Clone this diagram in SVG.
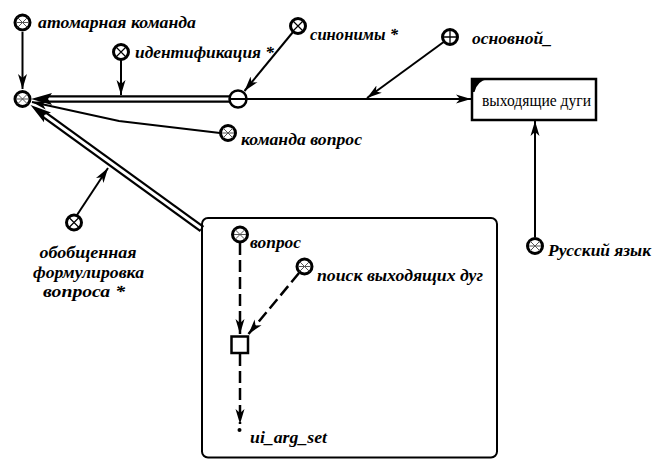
<svg xmlns="http://www.w3.org/2000/svg" xmlns:xlink="http://www.w3.org/1999/xlink" width="652" height="460" viewBox="0 0 652 460">
<style>
.lbl{font-weight:bold;font-style:italic;font-size:16px;fill:#000}
.reg{font-size:16px;fill:#000}
.ln{stroke:#000;stroke-width:2;fill:none}
.dash{stroke:#000;stroke-width:2.5;fill:none;stroke-dasharray:12 5}
.dbo{stroke:#000;stroke-width:7.5;fill:none}
.dbi{stroke:#fff;stroke-width:3;fill:none}
</style>
<defs>
<marker id="ah" markerUnits="userSpaceOnUse" markerWidth="16" markerHeight="10" refX="15" refY="5" orient="auto">
<path d="M0,0.5 L15,5 L0,9.5 L4,5 Z" fill="#000"/>
</marker>
<g id="nx">
<circle r="7.5" fill="#fff" stroke="#000" stroke-width="3"/>
<path d="M-5,-5L5,5M-5,5L5,-5" stroke="#000" stroke-width="1.2"/>
</g>
<g id="na">
<circle r="7.5" fill="#fff" stroke="#000" stroke-width="3"/>
<path d="M-5,-5L5,5M-5,5L5,-5M-6,0H6" stroke="#555" stroke-width="1"/>
</g>
</defs>
<rect width="652" height="460" fill="#fff"/>

<g id="connectors">
<line class="ln" x1="22.5" y1="32" x2="22.5" y2="89" marker-end="url(#ah)"/>
<line class="dbo" x1="48" y1="99" x2="230" y2="99"/>
<line class="dbi" x1="46" y1="99" x2="231" y2="99"/>
<polygon points="31,99 52,93 48,99 52,105" fill="#000"/>
<line class="dbo" x1="44" y1="114.5" x2="202" y2="229"/>
<line class="dbi" x1="43" y1="113.8" x2="201" y2="228.3"/>
<polygon points="0,0 21,-6 17,0 21,6" fill="#000" transform="translate(30.5,105) rotate(35.9)"/>
<line class="ln" x1="121" y1="60" x2="121" y2="95" marker-end="url(#ah)"/>
<line class="ln" x1="293" y1="32" x2="244.5" y2="91" marker-end="url(#ah)"/>
<line class="ln" x1="445" y1="41" x2="367" y2="98" marker-end="url(#ah)"/>
<line class="ln" x1="247" y1="99" x2="471" y2="99" marker-end="url(#ah)"/>
<line class="ln" x1="535" y1="237" x2="535" y2="121" marker-end="url(#ah)"/>
<polyline class="ln" points="220,133 119,121 32,102" marker-end="url(#ah)"/>
<line class="ln" x1="77" y1="215" x2="108" y2="168" marker-end="url(#ah)"/>
<line class="dash" x1="240" y1="243" x2="240" y2="334" marker-end="url(#ah)"/>
<line class="dash" x1="299" y1="273" x2="248.5" y2="334" marker-end="url(#ah)"/>
<line class="dash" x1="240" y1="354" x2="240" y2="424" marker-end="url(#ah)"/>
</g>

<g font-family="'Liberation Serif', 'DejaVu Serif', serif">
<g id="n-atom"><use xlink:href="#na" x="22.5" y="22.5"/><text class="lbl" x="38" y="28" textLength="158" lengthAdjust="spacingAndGlyphs">атомарная команда</text></g>
<g id="n-center"><use xlink:href="#na" x="22.5" y="99"/></g>
<g id="n-ident"><use xlink:href="#nx" x="121" y="52"/><text class="lbl" x="135" y="58" textLength="139" lengthAdjust="spacingAndGlyphs">идентификация *</text></g>
<g id="n-syn"><use xlink:href="#nx" x="298" y="26"/><text class="lbl" x="310" y="40" textLength="88" lengthAdjust="spacingAndGlyphs">синонимы *</text></g>
<g id="n-pair"><circle cx="238" cy="99" r="8.5" fill="#fff" stroke="#000" stroke-width="2.5"/><line x1="229.5" y1="99" x2="246.5" y2="99" stroke="#000" stroke-width="2"/></g>
<g id="n-main"><circle cx="450" cy="37" r="7.5" fill="#fff" stroke="#000" stroke-width="3"/><path d="M442.5,37H457.5M450,29.5V44.5" stroke="#000" stroke-width="1.3"/><text class="lbl" x="472" y="44" textLength="80" lengthAdjust="spacingAndGlyphs">основной_</text></g>
<g id="n-box"><rect x="472" y="79" width="124" height="41" fill="#fff" stroke="#000" stroke-width="2.5"/><path d="M472,79 L488,79 Q477,81 474.5,92 L472,92 Z" fill="#000"/><text class="reg" x="482" y="106" textLength="109" lengthAdjust="spacingAndGlyphs">выходящие дуги</text></g>
<g id="n-rus"><use xlink:href="#na" x="535" y="246"/><text class="lbl" x="548" y="256" textLength="103" lengthAdjust="spacingAndGlyphs">Русский язык</text></g>
<g id="n-cmd"><use xlink:href="#na" x="228" y="133"/><text class="lbl" x="241" y="145" textLength="121" lengthAdjust="spacingAndGlyphs">команда вопрос</text></g>
<g id="n-gen"><use xlink:href="#nx" x="74" y="222.5"/>
<text class="lbl" x="88" y="258" text-anchor="middle" textLength="97" lengthAdjust="spacingAndGlyphs">обобщенная</text>
<text class="lbl" x="88.5" y="278" text-anchor="middle" textLength="111" lengthAdjust="spacingAndGlyphs">формулировка</text>
<text class="lbl" x="84" y="297" text-anchor="middle" textLength="82" lengthAdjust="spacingAndGlyphs">вопроса *</text></g>
<g id="n-frame"><rect x="202" y="218" width="295" height="239.5" rx="6" fill="none" stroke="#000" stroke-width="2"/></g>
<g id="n-q"><use xlink:href="#na" x="240" y="234.5"/><text class="lbl" x="250" y="248" textLength="51" lengthAdjust="spacingAndGlyphs">вопрос</text></g>
<g id="n-search"><use xlink:href="#na" x="304.5" y="266.5"/><text class="lbl" x="317" y="281" textLength="166" lengthAdjust="spacingAndGlyphs">поиск выходящих дуг</text></g>
<g id="n-sq"><rect x="231.5" y="336.5" width="16.5" height="16.5" fill="#fff" stroke="#000" stroke-width="2.5"/></g>
<g id="n-uiarg"><circle cx="239.5" cy="430" r="2" fill="#000"/><text class="lbl" x="250" y="443" textLength="77" lengthAdjust="spacingAndGlyphs">ui_arg_set</text></g>
</g>
</svg>
